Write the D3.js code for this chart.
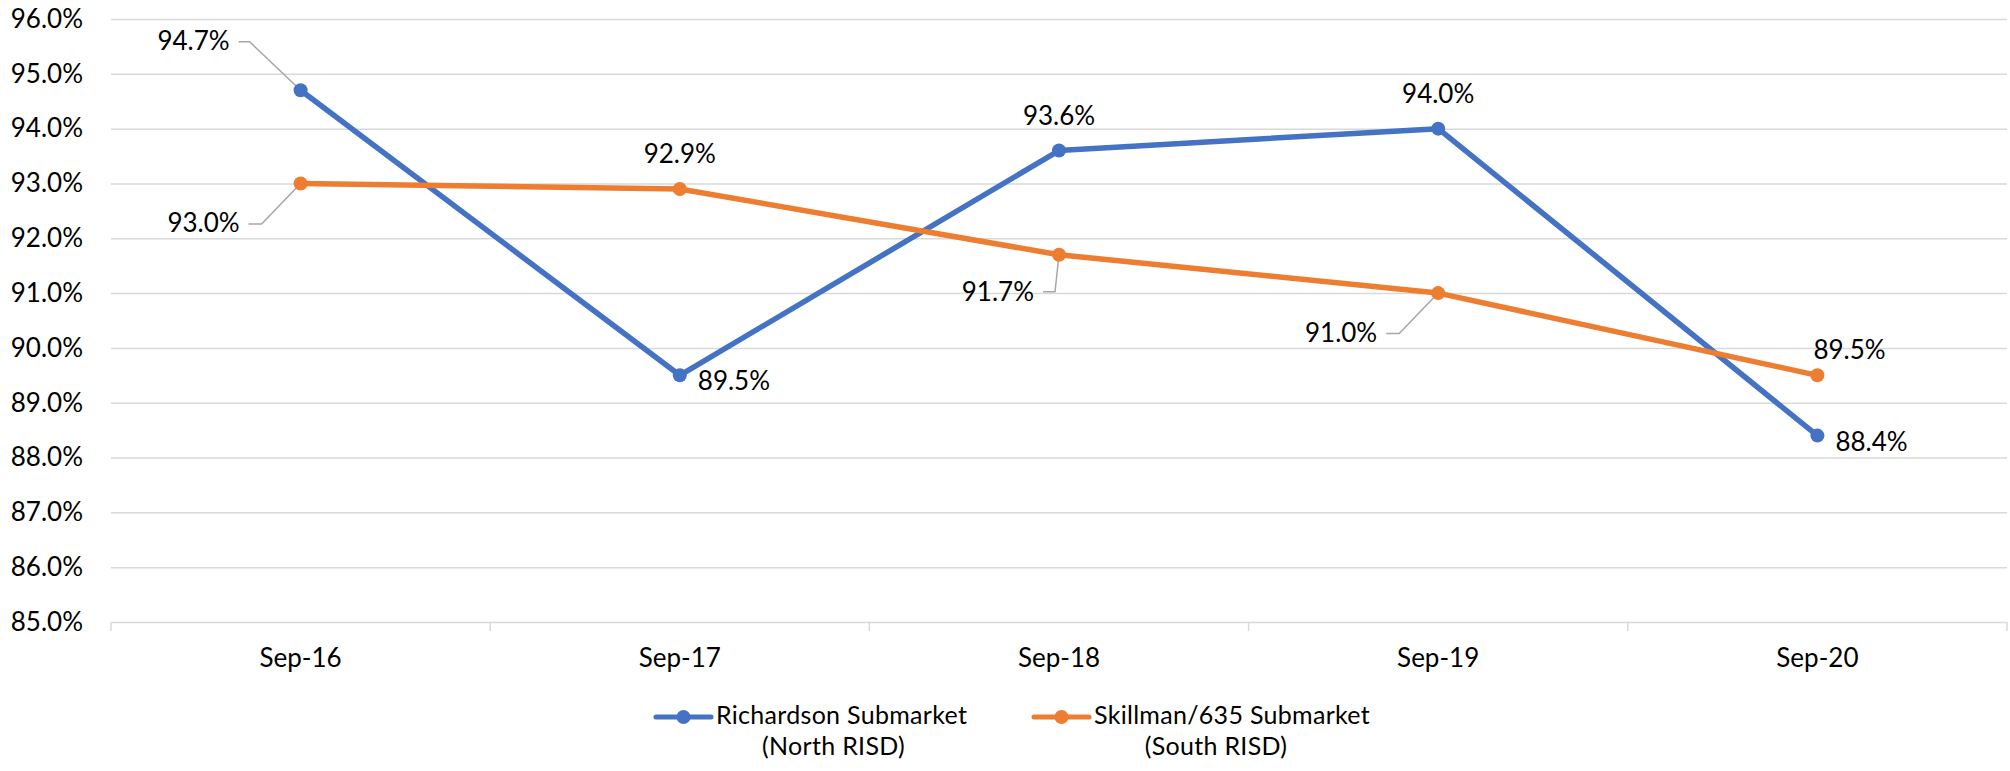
<!DOCTYPE html>
<html>
<head>
<meta charset="utf-8">
<script src="https://cdn.jsdelivr.net/npm/d3@7"></script>
<style>
  body { margin: 0; background: #fff; }
  text { font-family: Lato, "Open Sans", sans-serif; fill: #000; }
</style>
</head>
<body>
<svg id="chart" width="2010" height="771"></svg>
<script>
const categories = ["Sep-16", "Sep-17", "Sep-18", "Sep-19", "Sep-20"]
const richardson = [94.7, 89.5, 93.6, 94.0, 88.4]
const skillman = [93.0, 92.9, 91.7, 91.0, 89.5]
const yTicks = [85, 86, 87, 88, 89, 90, 91, 92, 93, 94, 95, 96]
const legendLines = [
  ["Richardson Submarket", "(North RISD)"],
  ["Skillman/635 Submarket", "(South RISD)"]
]

// where each data label sits relative to its point
const labelPos = [
  ["upLeft", "downRight", "above", "above", "downRight"],
  ["downLeft", "above", "downLeftShort", "downLeft", "aboveRight"]
]

const colors = ["#4472C4", "#ED7D31"]
const FS = 26

const svg = d3.select("#chart")
const plotL = 111, plotR = 2007, plotT = 19, plotB = 622

const x = d3.scalePoint().domain(categories).range([plotL, plotR]).padding(0.5)
const band = d3.scaleBand().domain(categories).range([plotL, plotR])
const y = d3.scaleLinear().domain([85, 96]).range([plotB, plotT])

// y axis + gridlines
const yAxis = svg.append("g")
  .attr("transform", `translate(${plotL},0)`)
  .call(d3.axisLeft(y).tickValues(yTicks).tickFormat(d => d.toFixed(1) + "%")
    .tickSize(-(plotR - plotL)).tickPadding(28))
yAxis.select(".domain").remove()
yAxis.selectAll("line").attr("stroke", "#D9D9D9").attr("stroke-width", 1.5)
yAxis.selectAll("text").style("font-size", FS + "px").style("font-family", "Lato")

// x axis boundary ticks and labels
const xb = svg.append("g")
const bounds = categories.map(c => band(c)).concat([plotR])
xb.selectAll("line").data(bounds).join("line")
  .attr("x1", d => d).attr("x2", d => d)
  .attr("y1", plotB).attr("y2", plotB + 9)
  .attr("stroke", "#D9D9D9").attr("stroke-width", 1.5)
xb.selectAll("text").data(categories).join("text")
  .attr("x", d => x(d)).attr("y", 667)
  .attr("text-anchor", "middle")
  .style("font-size", FS + "px")
  .text(d => d)

const series = [richardson, skillman]
const leaders = svg.append("g")
const lines = svg.append("g")
const labels = svg.append("g")

const line = d3.line().x((d, i) => x(categories[i])).y(d => y(d))

series.forEach((vals, s) => {
  lines.append("path").datum(vals)
    .attr("d", line)
    .attr("fill", "none")
    .attr("stroke", colors[s])
    .attr("stroke-width", 5.5)
    .attr("stroke-linejoin", "round")
  lines.selectAll(".m" + s).data(vals).join("circle")
    .attr("class", "m" + s)
    .attr("cx", (d, i) => x(categories[i]))
    .attr("cy", d => y(d))
    .attr("r", 7)
    .attr("fill", colors[s])

  vals.forEach((v, i) => {
    const px = x(categories[i]), py = y(v)
    const txt = v.toFixed(1) + "%"
    let tx, ty, anchor = "middle", lead = null
    switch (labelPos[s][i]) {
      case "above": tx = px; ty = py - 26; break
      case "aboveRight": tx = px - 4; ty = py - 16; anchor = "start"; break
      case "downRight": tx = px + 18; ty = py + 15; anchor = "start"; break
      case "upLeft":
        tx = px - 71; ty = py - 40; anchor = "end"
        lead = [[px - 62, py - 48.5], [px - 51, py - 48.5], [px, py]]
        break
      case "downLeft":
        tx = px - 61; ty = py + 49; anchor = "end"
        lead = [[px - 52, py + 40.5], [px - 39, py + 40.5], [px, py]]
        break
      case "downLeftShort":
        tx = px - 25; ty = py + 46; anchor = "end"
        lead = [[px - 16, py + 37], [px - 4, py + 37], [px, py]]
        break
    }
    if (lead) {
      leaders.append("path")
        .attr("d", d3.line()(lead))
        .attr("fill", "none")
        .attr("stroke", "#A6A6A6")
        .attr("stroke-width", 1.5)
    }
    labels.append("text")
      .attr("x", tx).attr("y", ty)
      .attr("text-anchor", anchor)
      .style("font-size", FS + "px")
      .text(txt)
  })
})

// legend (two-line entries)
const legendX = [656, 1034]
const legendShift = [-8, -16]
const LFS = 25
legendLines.forEach((ln, s) => {
  const g = svg.append("g").attr("transform", `translate(${legendX[s]},717)`)
  g.append("line").attr("x1", 0).attr("x2", 55).attr("y1", 0).attr("y2", 0)
    .attr("stroke", colors[s]).attr("stroke-width", 5).attr("stroke-linecap", "round")
  g.append("circle").attr("cx", 27.5).attr("cy", 0).attr("r", 7).attr("fill", colors[s])
  const t1 = g.append("text").attr("x", 60).attr("y", 7)
    .style("font-size", LFS + "px").style("letter-spacing", "0.3px").text(ln[0])
  const w = t1.node().getComputedTextLength()
  g.append("text").attr("x", 60 + w / 2 + legendShift[s]).attr("y", 38)
    .attr("text-anchor", "middle")
    .style("font-size", LFS + "px").style("letter-spacing", "0.3px").text(ln[1])
})
</script>
</body>
</html>
